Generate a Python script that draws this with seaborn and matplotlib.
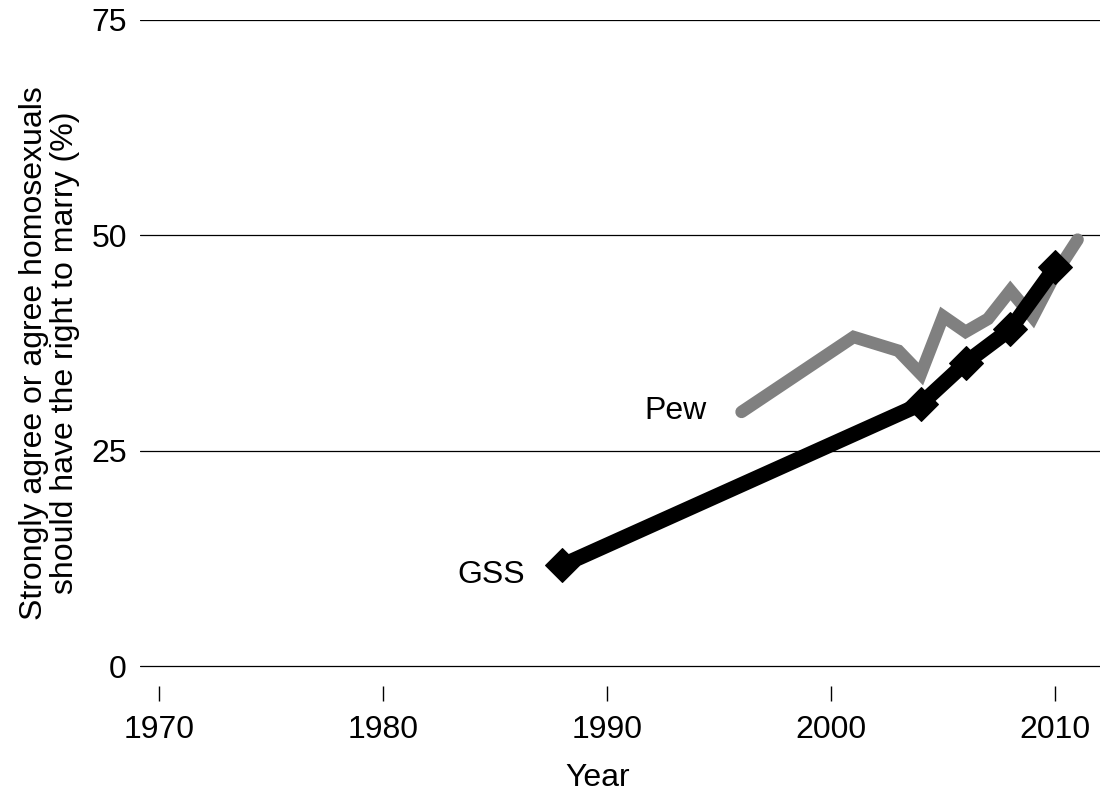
import pandas as pd
import seaborn as sns
import matplotlib.pyplot as plt

# values
gss_years = [1988, 2004, 2006, 2008, 2010]
gss_values = [11.7, 30.4, 35.2, 39.1, 46.3]

pew_years = [1996, 2001, 2003, 2004, 2005, 2006, 2007, 2008, 2009, 2010, 2011]
pew_values = [29.5, 38.2, 36.6, 33.9, 40.6, 38.8, 40.3, 43.6, 40.5, 45.5, 49.5]

y_ticks = [0, 25, 50, 75]
x_ticks = [1970, 1980, 1990, 2000, 2010]

gss = pd.DataFrame({'Year': gss_years, 'Support': gss_values, 'Survey': 'GSS'})
pew = pd.DataFrame({'Year': pew_years, 'Support': pew_values, 'Survey': 'Pew'})

sns.set_style('white')
plt.rcParams['font.family'] = ['Liberation Sans', 'DejaVu Sans']
plt.rcParams['text.color'] = 'black'
plt.rcParams['axes.labelcolor'] = 'black'
plt.rcParams['xtick.color'] = 'black'
plt.rcParams['ytick.color'] = 'black'

fs = 23

fig = plt.figure(figsize=(11, 7.93), dpi=100)
ax = fig.add_axes([0.1273, 0.1349, 0.8727, 0.8399])

for y in y_ticks:
    ax.axhline(y, color='black', lw=0.9, zorder=0)

sns.lineplot(data=pew, x='Year', y='Support', color='#808080', lw=9,
             solid_capstyle='round', solid_joinstyle='miter', ax=ax, zorder=2)
sns.lineplot(data=gss, x='Year', y='Support', color='black', lw=11,
             marker='D', markersize=17, markeredgecolor='black',
             solid_joinstyle='miter', ax=ax, zorder=3)

ax.annotate('Pew', (pew_years[0], pew_values[0]), xytext=(-25, 1),
            textcoords='offset points', ha='right', va='center', fontsize=fs)
ax.annotate('GSS', (gss_years[0], gss_values[0]), xytext=(-27, -7),
            textcoords='offset points', ha='right', va='center', fontsize=fs)

ax.set_xlim(1969.15, 2012)
ax.set_ylim(-2.32, 75)
ax.set_xticks(x_ticks)
ax.set_yticks(y_ticks)
ax.tick_params(axis='x', direction='out', length=11, width=1, color='black',
               bottom=True, labelsize=fs, pad=10)
ax.tick_params(axis='y', left=False, labelsize=fs, pad=6)
for s in ax.spines.values():
    s.set_visible(False)

ax.set_xlabel('Year', fontsize=fs)
ax.xaxis.set_label_coords(0.477, -0.116)
ax.set_ylabel('Strongly agree or agree homosexuals\nshould have the right to marry (%)',
              fontsize=fs, labelpad=8, linespacing=1.05)

fig.savefig('out.png', dpi=100)
